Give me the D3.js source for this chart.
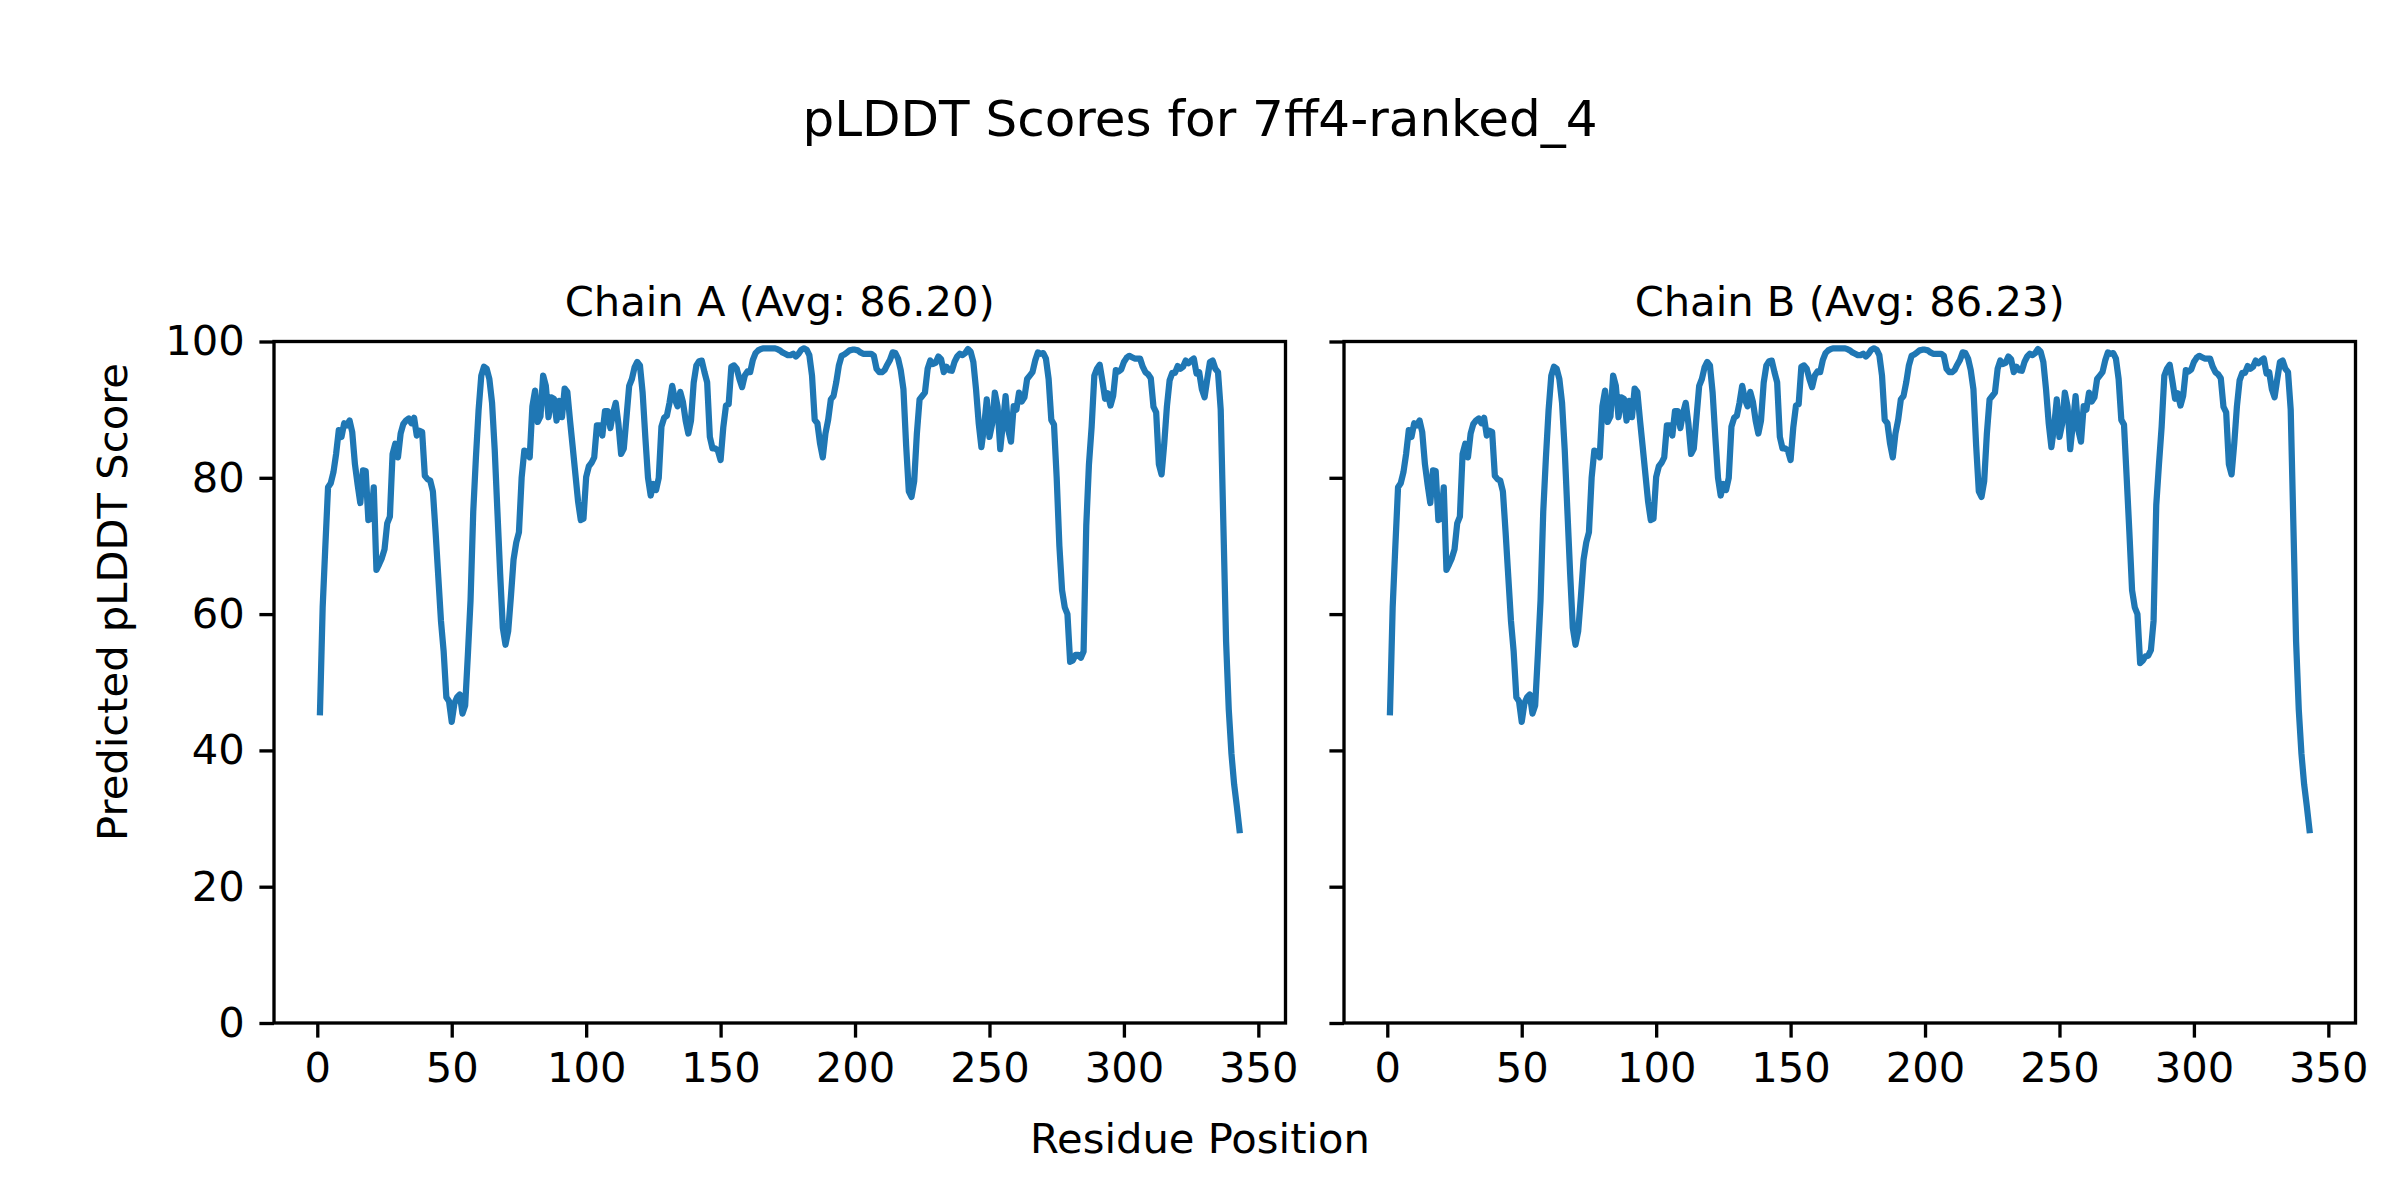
<!DOCTYPE html>
<html><head><meta charset="utf-8">
<script src="https://cdn.jsdelivr.net/npm/d3@7"></script>
<style>html,body{margin:0;padding:0;background:#fff;} svg{display:block;}</style>
</head><body>
<svg id="chart" width="2400" height="1200"></svg>
<script>
// ---------- data ----------
const chainA = [
45.6, 61, 70, 78.6, 79.2, 80.8, 83.5, 87, 86, 88,
87.7, 88.4, 86.7, 82, 79, 76.3, 81.1, 81, 73.8, 74,
78.6, 66.5, 67.3, 68.2, 69.5, 73.3, 74.3, 83.5, 85, 83,
86.5, 87.9, 88.4, 88.7, 88, 88.8, 86.2, 86.9, 86.7, 80.3,
79.8, 79.6, 78, 72, 65.5, 59, 54.5, 47.8, 47.2, 44.2,
46.9, 47.8, 48.2, 45.4, 46.6, 54, 62, 75, 83, 90,
95, 96.3, 96, 94.5, 91, 84, 75, 66, 58, 55.5,
57.5, 62.5, 68, 70.5, 72, 80, 84, 83.8, 83, 90.5,
92.8, 88.2, 89, 95, 93.5, 88.9, 91.8, 91.6, 88.4, 91.3,
88.9, 93.1, 92.6, 88.4, 84.5, 80.5, 76.5, 73.8, 74, 80.1,
81.7, 82.2, 83, 87.7, 87.7, 86.2, 89.8, 89.8, 87.3, 89.5,
91, 87.9, 83.5, 84.3, 88.9, 93.5, 94.5, 96.2, 97, 96.5,
92.5, 86, 80, 77.4, 79.1, 78.2, 80, 87.5, 88.8, 89.1,
91, 93.5, 91.5, 90.5, 92.6, 91.1, 88.4, 86.5, 88.4, 94,
96.5, 97.1, 97.2, 95.5, 94, 86, 84.3, 84.3, 84, 82.6,
87.4, 90.6, 90.8, 96.3, 96.5, 96, 94.5, 93.3, 95, 95.6,
95.5, 97.3, 98.3, 98.7, 98.9, 99, 99, 99, 99, 99,
98.9, 98.7, 98.4, 98.2, 98, 98, 98.2, 97.8, 98.2, 98.8,
99, 98.8, 98, 95, 88.5, 88, 85, 83, 86.5, 88.5,
91.5, 92, 94, 96.5, 97.9, 98.1, 98.4, 98.7, 98.8, 98.8,
98.7, 98.4, 98.2, 98.2, 98.2, 98.2, 97.9, 96, 95.5, 95.5,
95.8, 96.6, 97.3, 98.4, 98.3, 97.5, 95.8, 93, 84.8, 78,
77.2, 79.5, 86.5, 91.5, 92, 92.5, 96, 97.2, 96.7, 96.9,
97.8, 97.4, 95.5, 96.3, 95.8, 95.7, 97, 97.8, 98.2, 98,
98.3, 98.9, 98.5, 97, 93, 88, 84.5, 87.5, 91.5, 86,
87.9, 92.5, 90.5, 84.2, 88, 92, 87, 85.3, 90.5, 90,
92.5, 91.2, 91.8, 94.5, 95, 95.5, 97.2, 98.4, 98.2, 98.3,
97.5, 94.5, 88.5, 87.8, 80, 70, 63.5, 61, 60, 53,
53.2, 54, 54, 53.6, 54.5, 73, 82, 87.5, 95, 96,
96.6, 94.2, 91.6, 92.4, 90.6, 92, 95.8, 95.6, 95.9, 97,
97.6, 97.9, 97.7, 97.5, 97.5, 97.5, 96.3, 95.5, 95.2, 94.6,
90.4, 89.6, 82, 80.5, 85, 90.5, 94.3, 95.4, 95.4, 96.4,
96, 96.3, 97.2, 96.8, 97.2, 97.5, 95.3, 95.5, 93, 91.8,
94.5, 97, 97.2, 96, 95.5, 90, 73, 56, 46, 39.5,
35, 31.8, 28.3
];
const chainB = [
45.6, 61, 70, 78.6, 79.2, 80.8, 83.5, 87, 86, 88,
87.7, 88.4, 86.7, 82, 79, 76.3, 81.1, 81, 73.8, 74,
78.6, 66.5, 67.3, 68.2, 69.5, 73.3, 74.3, 83.5, 85, 83,
86.5, 87.9, 88.4, 88.7, 88, 88.8, 86.2, 86.9, 86.7, 80.3,
79.8, 79.6, 78, 72, 65.5, 59, 54.5, 47.8, 47.2, 44.2,
46.9, 47.8, 48.2, 45.4, 46.6, 54, 62, 75, 83, 90,
95, 96.3, 96, 94.5, 91, 84, 75, 66, 58, 55.5,
57.5, 62.5, 68, 70.5, 72, 80, 84, 83.8, 83, 90.5,
92.8, 88.2, 89, 95, 93.5, 88.9, 91.8, 91.6, 88.4, 91.3,
88.9, 93.1, 92.6, 88.4, 84.5, 80.5, 76.5, 73.8, 74, 80.1,
81.7, 82.2, 83, 87.7, 87.7, 86.2, 89.8, 89.8, 87.3, 89.5,
91, 87.9, 83.5, 84.3, 88.9, 93.5, 94.5, 96.2, 97, 96.5,
92.5, 86, 80, 77.4, 79.1, 78.2, 80, 87.5, 88.8, 89.1,
91, 93.5, 91.5, 90.5, 92.6, 91.1, 88.4, 86.5, 88.4, 94,
96.5, 97.1, 97.2, 95.5, 94, 86, 84.3, 84.3, 84, 82.6,
87.4, 90.6, 90.8, 96.3, 96.5, 96, 94.5, 93.3, 95, 95.6,
95.5, 97.3, 98.3, 98.7, 98.9, 99, 99, 99, 99, 99,
98.9, 98.7, 98.4, 98.2, 98, 98, 98.2, 97.8, 98.2, 98.8,
99, 98.8, 98, 95, 88.5, 88, 85, 83, 86.5, 88.5,
91.5, 92, 94, 96.5, 97.9, 98.1, 98.4, 98.7, 98.8, 98.8,
98.7, 98.4, 98.2, 98.2, 98.2, 98.2, 97.9, 96, 95.5, 95.5,
95.8, 96.6, 97.3, 98.4, 98.3, 97.5, 95.8, 93, 84.8, 78,
77.2, 79.5, 86.5, 91.5, 92, 92.5, 96, 97.2, 96.7, 96.9,
97.8, 97.4, 95.5, 96.3, 95.8, 95.7, 97, 97.8, 98.2, 98,
98.3, 98.9, 98.5, 97, 93, 88, 84.5, 87.5, 91.5, 86,
87.9, 92.5, 90.5, 84.2, 88, 92, 87, 85.3, 90.5, 90,
92.5, 91.2, 91.8, 94.5, 95, 95.5, 97.2, 98.4, 98.2, 98.3,
97.5, 94.5, 88.5, 87.8, 80, 72, 63.5, 61, 60, 52.8,
53.2, 53.8, 53.9, 54.7, 59, 76, 82, 87.5, 95, 96,
96.6, 94.2, 91.6, 92.4, 90.6, 92, 95.8, 95.6, 95.9, 97,
97.6, 97.9, 97.7, 97.5, 97.5, 97.5, 96.3, 95.5, 95.2, 94.6,
90.4, 89.6, 82, 80.5, 85, 90.5, 94.3, 95.4, 95.4, 96.4,
96, 96.3, 97.2, 96.8, 97.2, 97.5, 95.3, 95.5, 93, 91.8,
94.5, 97, 97.2, 96, 95.5, 90, 73, 56, 46, 39.5,
35, 31.8, 28.3
];
const chainTitles = ["Chain A (Avg: 86.20)", "Chain B (Avg: 86.23)"];
const xTicks = [0, 50, 100, 150, 200, 250, 300, 350];
const yTicks = [0, 20, 40, 60, 80, 100];
const figTitle = "pLDDT Scores for 7ff4-ranked_4";
const xLabelText = "Residue Position";
const yLabelText = "Predicted pLDDT Score";

// ---------- layout ----------
const FONT = "'DejaVu Sans', sans-serif";
const LINE_COLOR = "#1f77b4";
const plotTop = 341.5, plotBottom = 1023;
const panelX = [[274, 1285.5], [1344, 2355.5]];
const tickLen = 14.6, tickPad = 14.6, tickW = 3.33, spineW = 3.33;

const svg = d3.select("#chart");
svg.append("rect").attr("width", 2400).attr("height", 1200).attr("fill", "#fff");

const datasets = [chainA, chainB];

datasets.forEach((vals, i) => {
  const residues = d3.range(1, vals.length + 1);
  const ext = d3.extent(residues);
  const pad = (ext[1] - ext[0]) * 0.05;
  const x = d3.scaleLinear().domain([ext[0] - pad, ext[1] + pad]).range(panelX[i]);
  const y = d3.scaleLinear().domain([0, 100]).range([plotBottom, plotTop]);
  const g = svg.append("g");

  const line = d3.line().x((d, j) => x(residues[j])).y(d => y(d));
  g.append("path").datum(vals)
    .attr("d", line)
    .attr("fill", "none")
    .attr("stroke", LINE_COLOR)
    .attr("stroke-width", 6.25)
    .attr("stroke-linejoin", "round")
    .attr("stroke-linecap", "square");

  const xa = g.append("g").attr("transform", `translate(0,${plotBottom})`)
    .call(d3.axisBottom(x).tickValues(xTicks).tickSize(tickLen).tickPadding(tickPad).tickFormat(d3.format("d")));
  const ya = g.append("g").attr("transform", `translate(${panelX[i][0]},0)`)
    .call(d3.axisLeft(y).tickValues(yTicks).tickSize(tickLen).tickPadding(tickPad)
      .tickFormat(i === 0 ? d3.format("d") : () => ""));
  [xa, ya].forEach(a => {
    a.select(".domain").remove();
    a.selectAll(".tick line").attr("stroke", "#000").attr("stroke-width", tickW);
    a.selectAll(".tick text").attr("fill", "#000")
      .style("font-family", FONT).style("font-size", "41.67px");
  });

  g.append("rect")
    .attr("x", panelX[i][0]).attr("y", plotTop)
    .attr("width", panelX[i][1] - panelX[i][0]).attr("height", plotBottom - plotTop)
    .attr("fill", "none").attr("stroke", "#000").attr("stroke-width", spineW);

  g.append("text")
    .attr("x", (panelX[i][0] + panelX[i][1]) / 2).attr("y", 316)
    .attr("text-anchor", "middle")
    .style("font-family", FONT).style("font-size", "41.67px")
    .text(chainTitles[i]);
});

svg.append("text").attr("x", 1200).attr("y", 136).attr("text-anchor", "middle")
  .style("font-family", FONT).style("font-size", "50px").text(figTitle);
svg.append("text").attr("x", 1200).attr("y", 1153).attr("text-anchor", "middle")
  .style("font-family", FONT).style("font-size", "41.67px").text(xLabelText);
svg.append("text").attr("transform", "translate(127,602) rotate(-90)").attr("text-anchor", "middle")
  .style("font-family", FONT).style("font-size", "41.67px").text(yLabelText);
</script>
</body></html>
